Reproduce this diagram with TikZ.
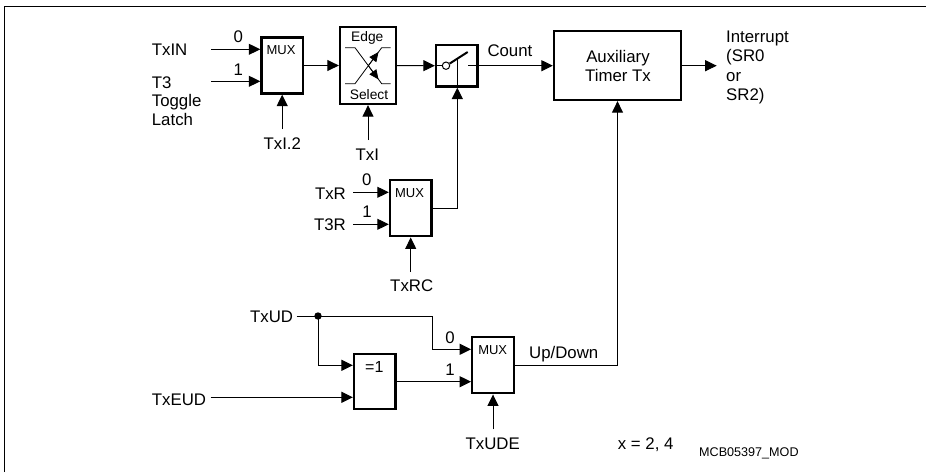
\documentclass[tikz,border=0pt]{standalone}
\usepackage{fontspec}
\setmainfont{Liberation Sans}
\usetikzlibrary{arrows.meta,calc}
\tikzset{
  x=1pt,y=-1pt,
  wire/.style={line width=1pt,draw=black},
  arr/.style={wire,-{Triangle[length=11.5pt,width=11pt]}},
  sarr/.style={wire,-{Triangle[length=9.5pt,width=8.5pt]}},
  blk/.style={draw,line width=2.3pt,inner sep=0pt,minimum width=#1,outer sep=1.15pt},
  mbox/.style={blk=41.5pt,minimum height=56pt},
  tl/.style={inner sep=0pt,font=\fontsize{16.8}{19}\selectfont},
  tb/.style={tl,anchor=base},
  twest/.style={tl,anchor=base west},
  teast/.style={tl,anchor=base east},
  small/.style={inner sep=0pt,anchor=base,font=\fontsize{13}{15}\selectfont},
}
\begin{document}
\begin{tikzpicture}
\useasboundingbox (0,0) rectangle (926,472);
% frame
\draw[line width=1.3pt] (4.6,472) -- (4.6,6.4) -- (926,6.4);
% blocks
\node[mbox] (m1) at (282.2,65.5) {};
\node[blk=56pt,minimum height=77pt,line width=2.6pt] (es) at (368,65.5) {};
\node[blk=41.5pt,minimum height=41.5pt] (sw) at (456.8,65.7) {};
\node[blk=127pt,minimum height=69pt] (tm) at (617.5,65.5) {};
\node[mbox] (m2) at (410.7,208.3) {};
\node[blk=41.5pt,minimum height=55pt] (xr) at (374.8,381.5) {};
\node[mbox] (m3) at (493,365.3) {};
% block texts
\node[small] (m1t) at (281,54) {MUX};
\node[small] (m2t) at (409.5,197.3) {MUX};
\node[small] (m3t) at (492.7,354) {MUX};
\node[small,font=\fontsize{13.8}{15}\selectfont] (est) at (367.3,41.7) {Edge};
\node[small,font=\fontsize{13.8}{15}\selectfont] (esb) at (369,99) {Select};
\node[tb,font=\fontsize{16}{18}\selectfont] (xrt) at (374.3,372.7) {=1};
\node[tb,align=center,font=\fontsize{16.8}{18.7}\selectfont,anchor=center] (tmt) at (618,66) {Auxiliary\\Timer Tx};
% labels
\node[twest] (txin) at (151.7,55.7) {TxIN};
\node[tl,align=left,anchor=north west,font=\fontsize{16.8}{18.7}\selectfont] (t3) at (151.7,76.3) {T3\\Toggle\\Latch};
\node[tb] (l0a) at (238.3,42.3) {0};
\node[tb] (l1a) at (238.3,75) {1};
\node[tb] (txi2) at (282.3,149.3) {TxI.2};
\node[tb] (txi) at (367.3,160) {TxI};
\node[twest] (cnt) at (487.3,56.7) {Count};
\node[tl,align=left,anchor=north west,font=\fontsize{16.8}{19.3}\selectfont] (irq) at (726,30.7) {Interrupt\\(SR0\\or\\SR2)};
\node[teast] (txr) at (346,199) {TxR};
\node[teast] (t3r) at (346,230.7) {T3R};
\node[tb] (l0b) at (366.7,185.7) {0};
\node[tb] (l1b) at (367,217.7) {1};
\node[tb] (txrc) at (411.7,291.7) {TxRC};
\node[teast] (txud) at (293.3,322.3) {TxUD};
\node[twest] (txeud) at (151.7,405) {TxEUD};
\node[tb] (l0c) at (450,343.3) {0};
\node[tb] (l1c) at (450,375.3) {1};
\node[tb] (txude) at (492.7,449) {TxUDE};
\node[twest] (updn) at (529,358.3) {Up/Down};
\node[twest] (xval) at (617.7,449) {x = 2, 4};
\node[inner sep=0pt,anchor=base west,font=\fontsize{12.6}{14}\selectfont] (ref) at (699,456) {MCB05397\_MOD};
% free ends
\coordinate (c-txin) at (211,49.3);
\coordinate (c-t3) at (211,81.3);
\coordinate (c-sel1) at (282.2,129);
\coordinate (c-sel2) at (368,140);
\coordinate (c-txr) at (353.3,192.3);
\coordinate (c-t3r) at (353.3,224.3);
\coordinate (c-sel3) at (410.7,272);
\coordinate (c-sel4) at (493,429.3);
\coordinate (c-ud) at (296.7,316);
\coordinate (c-eud) at (210.7,397.3);
\coordinate (c-irq) at (716.7,65.7);
\coordinate (c-swin) at (468.2,65.7);
\coordinate (c-lever) at (467.7,52);
\coordinate (c-pivot) at (457.3,59);
\coordinate (dot) at (318,316);
\coordinate (c-bend) at (432.3,316);
\coordinate (c-up) at (617.5,365.3);
% first row
\draw[arr] (c-txin) -- (c-txin -| m1.west);
\draw[arr] (c-t3) -- (c-t3 -| m1.west);
\draw[arr] (c-sel1) -- (m1.south);
\draw[arr] (m1.east) -- (es.west);
\draw[arr] (c-sel2) -- (es.south);
\draw[arr] (es.east) -- (sw.west);
\node[circle,draw,line width=1pt,fill=white,minimum size=7.4pt,inner sep=0pt] (pv) at (446,65.7) {};
\draw[wire] (sw.west) -- (pv.west);
\draw[line width=2pt] (pv.30) -- (c-lever);
\draw[arr] (c-swin) -- (c-swin -| tm.west);
\draw[arr] (tm.east |- c-irq) -- (c-irq);
% edge select symbol
\coordinate (e1) at (345,47.7); \coordinate (e2) at (355,47.7);
\coordinate (e3) at (381.7,83.7); \coordinate (e4) at (390.7,83.7);
\coordinate (e5) at (345,83.7); \coordinate (e6) at (355,83.7);
\coordinate (e7) at (381.7,47.7); \coordinate (e8) at (390.7,47.7);
\draw[wire,line width=.8pt] (e1) -- (e2) -- (e3) -- (e4);
\draw[wire,line width=.8pt] (e5) -- (e6) -- (e7) -- (e8);
\draw[sarr,line width=.8pt] ($(e2)!.5!(e3)$) -- ($(e2)!.88!(e3)$);
\draw[sarr,line width=.8pt] ($(e6)!.5!(e7)$) -- ($(e6)!.88!(e7)$);
% second row
\draw[arr] (c-txr) -- (c-txr -| m2.west);
\draw[arr] (c-t3r) -- (c-t3r -| m2.west);
\draw[arr] (c-sel3) -- (m2.south);
\draw[arr] (m2.east) -| (c-pivot |- sw.south);
\draw[wire] (c-pivot |- sw.south) -- (c-pivot);
% third row
\fill (dot) circle (3.7pt);
\draw[wire] (c-ud) -- (dot);
\coordinate (c-m3a) at (m3.west |- 0,349.3);
\coordinate (c-m3b) at (m3.west |- 0,381.7);
\coordinate (c-xa) at (xr.west |- 0,365.3);
\draw[arr] (dot) -- (c-bend) |- (c-m3a);
\draw[arr] (dot) |- (c-xa);
\draw[arr] (c-eud) -- (c-eud -| xr.west);
\draw[arr] (xr.east |- c-m3b) -- (c-m3b);
\draw[arr] (c-sel4) -- (m3.south);
\draw[arr] (m3.east) -- (c-up) -- (c-up |- tm.south);
\end{tikzpicture}
\end{document}
